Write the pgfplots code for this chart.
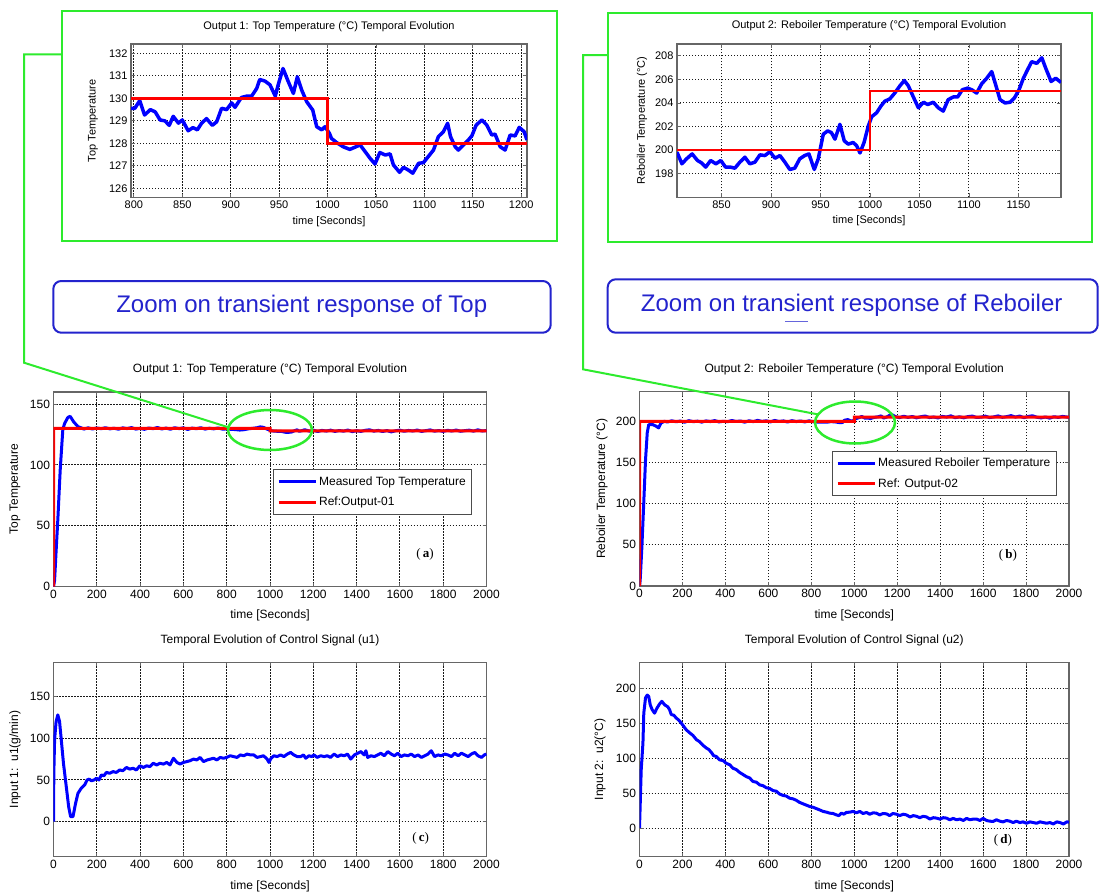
\documentclass[border=0pt]{standalone}
\usepackage{fontspec}
\setmainfont{Liberation Sans}
\newfontfamily\seriffont{Liberation Serif}
\usepackage{pgfplots}
\pgfplotsset{compat=1.18}
\definecolor{mblue}{RGB}{0,0,255}
\definecolor{mred}{RGB}{255,0,0}
\definecolor{zgreen}{RGB}{45,235,45}
\definecolor{tblue}{RGB}{35,35,205}
\pgfplotsset{
  mat/.style={scale only axis, anchor=south west, tick align=inside,
    grid=major, major grid style={black!90, dash pattern=on 1.3pt off 1.7pt, line width=1pt},
    axis line style={black!60, line width=1.3pt},
    tick style={black!60, line width=0.9pt}, major tick length=4pt,
    /pgf/number format/assume math mode=true, /pgf/number format/1000 sep={},
    tick label style={font=\fontsize{12}{12}\selectfont},
    label style={font=\fontsize{12}{12}\selectfont},
    title style={font=\fontsize{12}{12}\selectfont, anchor=center},
    xlabel style={anchor=center}, ylabel style={anchor=center},
    legend cell align=left,
    legend image code/.code={\draw[#1, line width=3pt] (0pt,0pt) -- (37pt,0pt);},
  },
  small/.style={tick label style={font=\fontsize{11}{11}\selectfont},
    label style={font=\fontsize{11}{11}\selectfont},
    title style={font=\fontsize{11}{11}\selectfont}},
}
\begin{document}
\begin{tikzpicture}[x=1pt,y=1pt]
\path[use as bounding box, fill=white] (0,0) rectangle (1104,-894);

% ---------- Inset A ----------
\begin{axis}[mat, small, at={(131pt,-197.7pt)}, width=396pt, height=153.7pt,
  xmin=797, xmax=1206, ymin=125.58, ymax=132.42,
  xtick={800,850,...,1200}, ytick={126,127,...,132},
  title={Output 1: Top Temperature (°C) Temporal Evolution}, title style={at={(0.5,1.0761)}},
  xlabel={time [Seconds]}, xlabel style={at={(0.5,-0.156)}},
  ylabel={Top Temperature}, ylabel style={at={(-0.096,0.5)}}]
\addplot[mblue, line width=3.5pt, line join=round] coordinates {
(797,129.56)(801,129.56)(806,129.9)(811,129.26)(817,129.5)(822,129.4)(827,129.04)(832,129.0)(836.5,128.8)(840.6,129.2)(846,128.9)(850,129.04)(856,128.56)(861,128.7)(865.5,128.6)(870,128.9)(875,129.1)(881,128.8)(885.5,128.96)(890.6,129.56)(895.8,129.5)(901,129.8)(904.4,129.6)(911,130.04)(916.5,130.1)(921.6,130.1)(926.8,130.44)(930,130.84)(935.4,130.77)(940.6,130.6)(946,130.1)(949,130.6)(954,131.33)(959.5,130.74)(964.7,130.22)(968.8,130.96)(973.3,130.37)(978.5,129.85)(984.7,129.48)(988.8,128.74)(994,128.6)(997.4,128.74)(1002,128.44)(1004,128.22)(1009.5,128.03)(1016,127.85)(1023,127.73)(1029.5,127.85)(1033.6,127.93)(1038.8,127.63)(1044,127.33)(1049,127.08)(1054,127.59)(1059.6,127.48)(1064.6,127.53)(1068,127.04)(1074.4,126.71)(1078.4,126.93)(1083.5,126.81)(1088,126.67)(1094,127.11)(1099,127.14)(1104,127.41)(1109.4,127.7)(1114.5,128.3)(1119.7,128.52)(1124,128.89)(1127,128.3)(1131.8,127.85)(1135,127.7)(1140.4,127.93)(1145.5,128.15)(1149,128.33)(1153.5,128.81)(1159.4,129.04)(1164.5,128.81)(1169.6,128.37)(1173,128.41)(1178.3,127.85)(1183.4,127.7)(1188.6,128.37)(1193.7,128.33)(1198,128.71)(1203,128.52)(1206,128.15)};
\addplot[mred, line width=2.5pt] coordinates {(797,130)(1000,130)(1000,128)(1206,128)};
\end{axis}

% ---------- Inset B ----------
\begin{axis}[mat, small, at={(677pt,-197.3pt)}, width=384pt, height=153.3pt,
  xmin=805, xmax=1193, ymin=196, ymax=209,
  xtick={850,900,...,1150}, ytick={198,200,...,208},
  title={Output 2: Reboiler Temperature (°C) Temporal Evolution}, title style={at={(0.5,1.0783)}},
  xlabel={time [Seconds]}, xlabel style={at={(0.5,-0.1546)}},
  ylabel={Reboiler Temperature (°C)}, ylabel style={at={(-0.0911,0.5)}}]
\addplot[mblue, line width=3.5pt, line join=round] coordinates {
(805,199.82)(810,198.84)(814.6,199.26)(820.3,199.68)(825.7,199.12)(829.8,198.92)(834,198.56)(839,199.12)(844.3,198.84)(849.3,199.12)(854,198.56)(859,198.56)(863.5,198.47)(868.5,198.98)(873.6,199.4)(878.6,198.84)(883.7,198.98)(888.8,199.6)(893.8,199.54)(898.9,199.87)(904,199.31)(909,199.54)(914,198.98)(919,198.36)(924,198.47)(929,199.26)(934,199.54)(938.3,199.68)(943.7,198.36)(947.7,199.26)(952.8,201.35)(957.2,201.63)(961,201.49)(964.6,200.93)(969.6,202.19)(974,200.79)(978,200.51)(983,200.65)(986.5,200.37)(989.9,199.76)(994,200.65)(998.3,202.05)(1001.7,202.83)(1006.7,203.17)(1011,203.73)(1015,204.15)(1020,204.34)(1025,204.84)(1030.3,205.46)(1034.7,205.9)(1038.7,205.46)(1043.8,204.51)(1048.9,203.59)(1054,204.06)(1058.3,203.87)(1064,204.06)(1069,203.59)(1074,203.31)(1079,204.28)(1084.2,204.51)(1088.6,204.51)(1093.3,205.12)(1098.7,205.26)(1102.8,205.12)(1107.8,204.84)(1112.9,205.63)(1118,206.1)(1123,206.66)(1127,205.54)(1131.4,204.28)(1136.5,204.0)(1141.5,204.06)(1145.9,204.42)(1150.6,205.12)(1155,206.1)(1159.4,206.85)(1163.4,207.5)(1168.5,207.36)(1173.6,207.83)(1177.6,206.94)(1183,205.82)(1187.7,206.1)(1193,205.74)};
\addplot[mred, line width=2.5pt] coordinates {(805,200)(1000,200)(1000,205)(1193,205)};
\end{axis}

% ---------- C ----------
\begin{axis}[mat, at={(53.5pt,-586.5pt)}, width=433pt, height=194.5pt,
  xmin=0, xmax=2000, ymin=0, ymax=160,
  xtick={0,200,...,2000}, ytick={0,50,100,150},
  title={Output 1: Top Temperature (°C) Temporal Evolution}, title style={at={(0.5,1.0874)}},
  xlabel={time [Seconds]}, xlabel style={at={(0.5,-0.1465)}},
  ylabel={Top Temperature}, ylabel style={at={(-0.0889,0.5)}},
  legend style={at={(0.506,0.6026)}, anchor=north west, draw=black!70, line width=1pt,
    font=\fontsize{12}{12}\selectfont, inner xsep=4pt, inner ysep=5pt, row sep=6pt}]
\addplot[mblue, line width=3pt, line join=round] coordinates {
(0,0)(5,5)(12,29)(20,55)(31,96)(43,129)(51,134)(66,139)(77,140)(93,135.5)(113,131.5)(128,130.5)
(140,129.5)(160,130.5)(180,129.6)(200,130.4)(220,129.8)(240,130.6)(260,129.7)(280,130.2)(300,129.4)(320,130.5)(340,129.9)(360,130.7)(380,129.5)(400,130.1)(420,129.3)(440,130.4)(460,129.8)(480,130.8)(500,129.6)(520,130.3)(540,129.4)(560,130.6)(580,129.9)(600,130.5)(620,129.2)(640,130.3)(660,129.8)(680,130.6)(700,129.5)(720,130.2)(740,129.7)(760,130.4)(780,129.5)(800,129.6)(820,129.3)(840,129.1)(860,128.7)(880,129.0)(900,129.7)(920,130.1)(940,130.6)(955,131.3)(970,130.9)(985,129.5)(1000,128.6)(1010,128.0)(1025,127.8)(1040,127.6)(1055,127.5)(1070,126.9)(1085,126.8)(1100,127.1)(1115,128.3)(1125,128.9)(1135,127.7)(1150,128.3)(1160,129.0)(1175,128.2)(1185,127.7)(1200,128.6)
(1220,127.5)(1240,128.4)(1260,127.9)(1280,128.6)(1300,127.6)(1320,128.3)(1340,127.8)(1360,128.7)(1380,127.4)(1400,128.2)(1420,127.6)(1440,128.5)(1460,128.9)(1480,127.8)(1500,128.4)(1520,127.5)(1540,128.3)(1560,127.2)(1580,128.1)(1600,128.6)(1620,127.7)(1640,128.4)(1660,127.9)(1680,128.7)(1700,127.6)(1720,128.2)(1740,128.8)(1760,127.8)(1780,128.3)(1800,127.6)(1820,128.5)(1840,127.9)(1860,128.7)(1880,127.7)(1900,128.2)(1920,128.6)(1940,127.8)(1960,128.9)(1980,127.9)(2000,128.3)};
\addlegendentry{Measured Top Temperature}
\addplot[mred, line width=3pt] coordinates {(0,0)(1,130)(1000,130)(1000,128)(2000,128)};
\addlegendentry{Ref:Output-01}
\end{axis}

% ---------- D ----------
\begin{axis}[mat, at={(639.5pt,-586pt)}, width=429.5pt, height=194.3pt,
  xmin=0, xmax=2000, ymin=0, ymax=236,
  xtick={0,200,...,2000}, ytick={0,50,...,200},
  title={Output 2: Reboiler Temperature (°C) Temporal Evolution}, title style={at={(0.5,1.0859)}},
  xlabel={time [Seconds]}, xlabel style={at={(0.5,-0.149)}},
  ylabel={Reboiler Temperature (°C)}, ylabel style={at={(-0.0873,0.5)}},
  legend style={at={(0.4475,0.6963)}, anchor=north west, draw=black!70, line width=1pt,
    font=\fontsize{12}{12}\selectfont, inner xsep=4pt, inner ysep=5pt, row sep=6pt}]
\addplot[mblue, line width=3pt, line join=round] coordinates {
(0,0)(3,6.5)(11,47)(19,96)(28,153)(36,186)(43,196)(62,196)(78,194)(89,192)(100,198)(116,200)
(130,199.2)(150,200.6)(170,199.5)(190,200.3)(210,199.0)(230,200.8)(250,199.6)(270,200.2)(290,199.1)(310,200.5)(330,199.7)(350,200.9)(370,199.3)(390,200.1)(410,199.5)(430,201.0)(450,199.8)(470,200.4)(490,199.0)(510,200.7)(530,199.6)(550,201.2)(570,199.9)(590,200.6)(610,199.4)(630,201.1)(650,199.8)(670,200.5)(690,199.2)(710,200.8)(730,199.7)(750,200.4)(770,199.3)(790,200.6)(810,199.5)(830,199.1)(850,199.2)(870,198.9)(890,199.6)(910,199.4)(930,198.5)(945,198.6)(955,201.4)(970,202.1)(985,200.4)(995,200.6)(1005,203.0)(1020,204.3)(1035,205.9)(1050,203.8)(1065,204.0)(1075,203.3)(1090,204.6)(1100,205.1)(1112,205.6)(1125,206.6)(1137,204.0)(1150,205.1)(1165,207.4)(1178,207.8)(1190,205.9)
(1210,204.5)(1230,206.2)(1250,204.8)(1270,205.9)(1290,204.2)(1310,205.6)(1330,206.5)(1350,204.6)(1370,205.3)(1390,204.1)(1410,206.0)(1430,205.2)(1450,206.7)(1470,204.4)(1490,205.5)(1510,204.3)(1530,205.8)(1550,206.4)(1570,204.7)(1590,205.1)(1610,206.3)(1630,204.6)(1650,205.4)(1670,206.6)(1690,204.9)(1710,205.7)(1730,206.9)(1750,205.2)(1770,206.4)(1790,204.5)(1810,205.9)(1830,206.8)(1850,205.0)(1870,204.2)(1890,205.3)(1910,203.9)(1930,205.6)(1950,204.8)(1970,206.0)(1990,205.2)(2000,204.9)};
\addlegendentry{Measured Reboiler Temperature}
\addplot[mred, line width=3pt] coordinates {(0,0)(1,200)(1000,200)(1000,205)(2000,205)};
\addlegendentry{Ref: Output-02}
\end{axis}

% ---------- E ----------
\begin{axis}[mat, at={(53.5pt,-856.7pt)}, width=433pt, height=194.4pt,
  xmin=0, xmax=2000, ymin=-42, ymax=191,
  xtick={0,200,...,2000}, ytick={0,50,100,150},
  title={Temporal Evolution of Control Signal (u1)}, title style={at={(0.5,1.0802)}},
  xlabel={time [Seconds]}, xlabel style={at={(0.5,-0.1543)}},
  ylabel={Input 1:\ \ u1(g/min)}, ylabel style={at={(-0.0889,0.5)}}]
\addplot[mblue, line width=3pt, line join=round] coordinates {
(0,0)(1.5,58)(5,98)(12,120)(20,128)(28,120)(36,98)(46,70)(59,42)(70,18)(79,6)(90,6)(102,22)(113,34)(128,40)(144,44)(155,50)(165,51)(175,49)(188,50)(198,52)(210,50)(221,56)(233,55)(244,59)(260,58)(275,60)(290,59)(306,62)(320,61)(337,65)(352,63)(368,64)(383,62)(399,67)(415,65)(430,67)(445,66)(461,70)(476,68)(492,70)(508,69)(523,71)(538,68)(554,76)(570,71)(585,69)(600,71)(616,72)(630,73)(647,75)(662,74)(677,77)(693,72)(710,74)(725,75)(739,76)(755,74)(770,77)(785,76)(800,77)(816,79)(832,78)(848,77)(863,80)(879,79)(894,81)(910,80)(925,80)(940,77)(956,78)(970,79)(987,75)(995,71)(1005,76)(1018,79)(1033,78)(1049,80)(1064,78)(1080,81)(1095,83)(1110,80)(1126,78)(1142,78)(1155,80)(1165,76)(1180,79)(1192,78)(1203,80)(1218,77)(1234,79)(1250,78)(1265,79)(1280,77)(1296,81)(1312,78)(1327,80)(1343,79)(1358,81)(1373,75)(1390,80)(1405,82)(1420,84)(1435,80)(1443,85)(1451,77)(1466,79)(1482,78)(1497,80)(1512,82)(1528,79)(1544,84)(1560,81)(1575,79)(1590,82)(1606,78)(1621,80)(1637,79)(1652,81)(1668,78)(1684,80)(1699,77)(1715,79)(1730,81)(1745,85)(1760,78)(1776,80)(1791,79)(1807,81)(1822,80)(1838,78)(1853,82)(1869,79)(1884,82)(1900,80)(1915,78)(1930,81)(1946,83)(1961,79)(1977,77)(1990,80)(2000,81)};
\end{axis}

% ---------- F ----------
\begin{axis}[mat, at={(639.5pt,-856.7pt)}, width=429.5pt, height=194.4pt,
  xmin=0, xmax=2000, ymin=-41, ymax=238,
  xtick={0,200,...,2000}, ytick={0,50,...,200},
  title={Temporal Evolution of Control Signal (u2)}, title style={at={(0.5,1.0802)}},
  xlabel={time [Seconds]}, xlabel style={at={(0.5,-0.1517)}},
  ylabel={Input 2:\ \ u2(°C)}, ylabel style={at={(-0.092,0.5)}}]
\addplot[mblue, line width=3pt, line join=round] coordinates {
(0,0)(3,31)(8,84)(16,122)(20,165)(28,187)(36,191)(43,189)(50,177)(59,170)(70,165)(81,172)(93,178)(104,182)(117,177)(132,174)(140,170)(148,163)(160,162)(171,158)(183,155)(194,151)(206,146)(218,141)(233,137)(249,133)(265,127)(280,124)(295,119)(311,115)(322,113)(334,109)(345,104)(357,103)(373,98)(389,97)(404,93)(420,91)(435,86)(451,84)(466,80)(482,77)(497,74)(513,72)(528,67)(544,66)(560,62)(575,61)(590,58)(606,57)(621,54)(637,53)(652,49)(668,47)(684,46)(699,43)(715,42)(730,40)(745,37)(761,35)(777,33)(793,31)(808,30)(824,28)(840,26)(855,24)(870,23)(886,21.5)(901,21)(917,19)(928,18)(940,21.5)(952,20)(963,22.5)(980,23)(995,24)(1010,22)(1026,24)(1041,21)(1057,22.5)(1072,20)(1088,22)(1103,21.5)(1118,19)(1134,21)(1150,20.5)(1165,18)(1180,21)(1197,20)(1212,18)(1228,20)(1243,19)(1260,16)(1275,18)(1290,17)(1305,15)(1321,17)(1337,16)(1352,13)(1368,15)(1383,14.4)(1399,13)(1414,15)(1430,14.4)(1445,12)(1461,14)(1476,12)(1492,13)(1508,11)(1523,14)(1539,12)(1554,13)(1570,13)(1585,11)(1600,14)(1616,11)(1631,10)(1647,9.6)(1662,12)(1678,10)(1693,9)(1709,11)(1724,10)(1740,8)(1755,10)(1771,8)(1786,9)(1802,7)(1818,9)(1834,8)(1849,7)(1865,9)(1880,8)(1896,7)(1911,8)(1927,6)(1943,9)(1958,8)(1974,6)(1990,9)(2000,8.6)};
\end{axis}

% ---------- panel letters ----------
\node[font=\seriffont\fontsize{13}{13}\selectfont] at (425,-554) {(\,\textbf{a})};
\node[font=\seriffont\fontsize{13}{13}\selectfont] at (1008,-555) {(\,\textbf{b})};
\node[font=\seriffont\fontsize{13}{13}\selectfont] at (420.7,-838) {(\,\textbf{c})};
\node[font=\seriffont\fontsize{13}{13}\selectfont] at (1003,-840.7) {(\,\textbf{d})};

% ---------- zoom annotations ----------
\draw[tblue, line width=2pt, rounded corners=8pt] (53.3,-281) rectangle (550.7,-332.7);
\node[tblue, font=\fontsize{24}{24}\selectfont] at (301.7,-306) {Zoom on transient response of Top};
\draw[tblue, line width=2pt, rounded corners=8pt] (607.7,-279.3) rectangle (1097.7,-332.7);
\node[tblue, font=\fontsize{24}{24}\selectfont] at (851.7,-305) {Zoom on transient response of Reboiler};
\draw[tblue!70, line width=0.9pt] (785,-321) -- (808,-321);

\draw[zgreen, line width=2.3pt] (62,-11) rectangle (557,-241);
\draw[zgreen, line width=2.3pt] (607.7,-12.7) rectangle (1092.3,-241.7);
\draw[zgreen, line width=2pt] (62,-54.3) -- (24,-54.3) -- (24,-362.7) -- (229,-427.5);
\draw[zgreen, line width=2pt] (607.7,-55) -- (583,-55) -- (583,-369.3) -- (818,-414.4);
\draw[zgreen, line width=2.5pt] (270,-430) ellipse [x radius=42, y radius=20];
\draw[zgreen, line width=2.5pt] (855,-422.5) ellipse [x radius=40, y radius=21];
\end{tikzpicture}
\end{document}
